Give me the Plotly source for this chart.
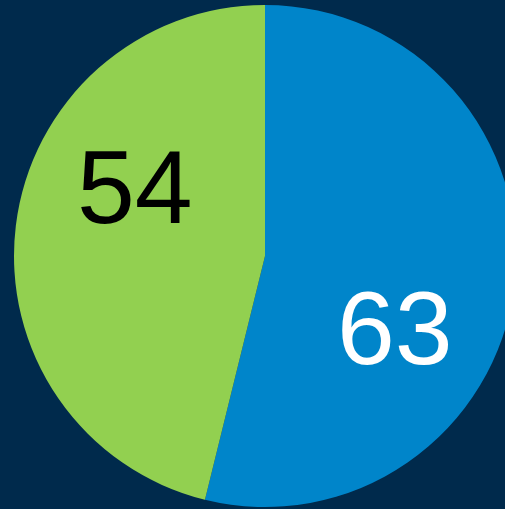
import plotly.graph_objects as go

labels = ["Blue", "Green"]
values = [63, 54]
colors = ["#0085CA", "#92D050"]
text_colors = ["#FFFFFF", "#000000"]
# label anchor positions in paper coordinates (styling)
label_x = [0.758, 0.241]
label_y = [0.357, 0.638]

fig = go.Figure(go.Pie(
    labels=labels,
    values=values,
    sort=False,
    direction="clockwise",
    rotation=0,
    marker=dict(colors=colors, line=dict(width=0)),
    textinfo="none",
    hoverinfo="label+value",
    showlegend=False,
))

for v, c, x, y in zip(values, text_colors, label_x, label_y):
    fig.add_annotation(
        x=x, y=y, xref="paper", yref="paper",
        text=str(v), showarrow=False,
        xanchor="center", yanchor="middle",
        font=dict(family="Liberation Sans, Arial, sans-serif", size=104, color=c),
    )

fig.update_layout(
    width=516,
    height=509,
    margin=dict(l=14, r=0, t=5, b=2, autoexpand=False),
    paper_bgcolor="#002A4C",
    plot_bgcolor="#002A4C",
)

post = """
document.body.style.margin='0';
document.body.style.overflow='hidden';
document.body.style.background='#002A4C';
document.documentElement.style.overflow='hidden';
"""

fig.write_html("out.html", post_script=post, config={"displayModeBar": False})
